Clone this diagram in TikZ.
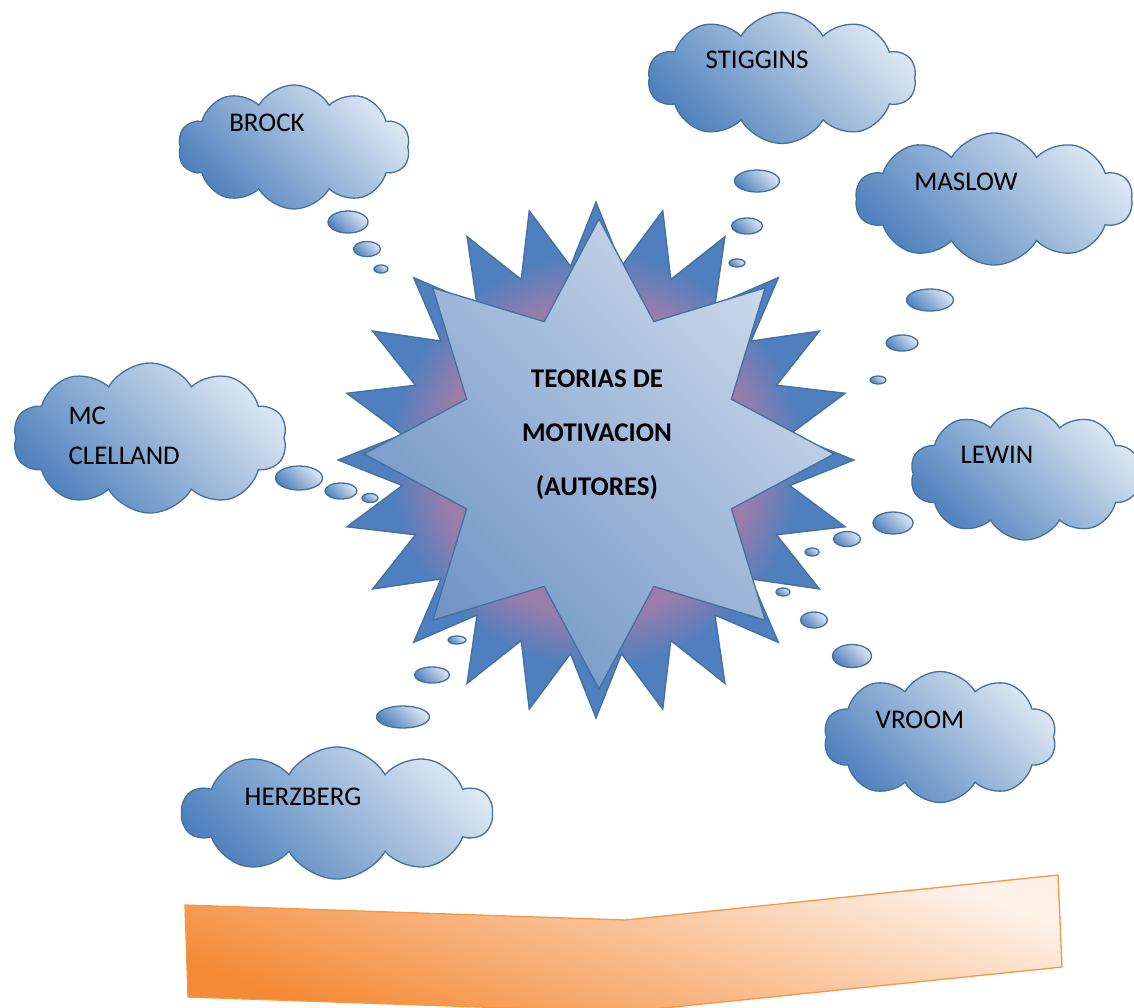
\documentclass[tikz,border=0pt]{standalone}
\usepackage{fontspec}
\setmainfont{Carlito}
\usepackage{tikz}
\usetikzlibrary{shapes.symbols,shapes.geometric}

\definecolor{cloudline}{HTML}{41719C}
\definecolor{cloudlight}{HTML}{DCE6F2}
\definecolor{clouddark}{HTML}{4F81BD}
\definecolor{starblue}{HTML}{4F7FBE}
\definecolor{starpink}{HTML}{9B7DAB}
\definecolor{starlight}{HTML}{CBD8EB}
\definecolor{starmid}{HTML}{6F93C6}
\definecolor{orangeline}{HTML}{F79646}
\definecolor{orangelight}{HTML}{FEF1E8}
\definecolor{orangedark}{HTML}{F48A36}

\pgfdeclareradialshading{starglow}{\pgfpoint{0bp}{0bp}}{color(0bp)=(starpink); color(15bp)=(starpink); color(20bp)=(starblue); color(50bp)=(starblue)}

\begin{document}
\begin{tikzpicture}[
  x=1pt, y=-1pt,
  thought/.style={cloud, cloud puffs=10, cloud puff arc=120, cloud ignores aspect, draw=cloudline, line width=1.3pt,
    top color=cloudlight, bottom color=clouddark, shading angle=-45, inner sep=0pt},
  bubble/.style={ellipse, draw=cloudline, line width=1.3pt, top color=cloudlight, bottom color=clouddark,
    shading angle=-45, inner sep=0pt},
  author/.style={font=\fontsize{27}{40}\selectfont, text=black},
  burst/.style={star, draw=cloudline, line width=1.3pt, inner sep=0pt},
  themetext/.style={font=\bfseries\fontsize{27}{54}\selectfont, align=center, text=black}
]
\useasboundingbox (0,0) rectangle (1134,1007);
% Central burst
\node[burst, star points=24, star point ratio=1.32, minimum size=516, shade, shading=starglow] (outer) at (596,460) {};
\node[burst, star points=8, star point ratio=1.64, minimum size=470,
  top color=starlight, bottom color=starmid, shading angle=-45] (inner) at (599,454) {};
\node[themetext] (theme) at (597,435) {TEORIAS DE\\MOTIVACION\\(AUTORES)};
% BROCK
\node[thought, minimum width=232, minimum height=124] (brock) at (294,147) {};
\node[author] (brock-t) at (267,123) {BROCK};
\node[bubble, minimum width=40, minimum height=22] (brock-b1) at (348,222) {};
\node[bubble, minimum width=27, minimum height=15] (brock-b2) at (367,249) {};
\node[bubble, minimum width=14, minimum height=8] (brock-b3) at (381,269) {};
% STIGGINS
\node[thought, minimum width=268, minimum height=131] (stig) at (782,78) {};
\node[author] (stig-t) at (757,60) {STIGGINS};
\node[bubble, minimum width=45, minimum height=22] (stig-b1) at (757,181) {};
\node[bubble, minimum width=31, minimum height=16] (stig-b2) at (747,226) {};
\node[bubble, minimum width=16, minimum height=8] (stig-b3) at (737,263) {};
% MASLOW
\node[thought, minimum width=277, minimum height=132] (maslow) at (994,199) {};
\node[author] (maslow-t) at (966,182) {MASLOW};
\node[bubble, minimum width=47, minimum height=22] (maslow-b1) at (930,300) {};
\node[bubble, minimum width=32, minimum height=16] (maslow-b2) at (902,343) {};
\node[bubble, minimum width=16, minimum height=8] (maslow-b3) at (878,380) {};
% MC CLELLAND
\node[thought, minimum width=274, minimum height=150] (mcc) at (150,438) {};
\node[author, align=left, anchor=west] (mcc-t) at (65,436) {MC\\CLELLAND};
\node[bubble, minimum width=47, minimum height=24] (mcc-b1) at (299,478) {};
\node[bubble, minimum width=32, minimum height=16] (mcc-b2) at (341,491) {};
\node[bubble, minimum width=16, minimum height=9] (mcc-b3) at (370,498) {};
% LEWIN
\node[thought, minimum width=230, minimum height=132] (lewin) at (1025,474) {};
\node[author] (lewin-t) at (997,455) {LEWIN};
\node[bubble, minimum width=40, minimum height=22] (lewin-b1) at (893,523) {};
\node[bubble, minimum width=27, minimum height=15] (lewin-b2) at (847,539) {};
\node[bubble, minimum width=14, minimum height=8] (lewin-b3) at (812,552) {};
% VROOM
\node[thought, minimum width=233, minimum height=131] (vroom) at (940,737) {};
\node[author] (vroom-t) at (920,720) {VROOM};
\node[bubble, minimum width=39, minimum height=23] (vroom-b1) at (852,656) {};
\node[bubble, minimum width=27, minimum height=16] (vroom-b2) at (814,620) {};
\node[bubble, minimum width=14, minimum height=8] (vroom-b3) at (783,592) {};
% HERZBERG
\node[thought, minimum width=310, minimum height=132] (herz) at (337,813) {};
\node[author] (herz-t) at (303,797) {HERZBERG};
\node[bubble, minimum width=53, minimum height=22] (herz-b1) at (403,717) {};
\node[bubble, minimum width=35, minimum height=16] (herz-b2) at (432,675) {};
\node[bubble, minimum width=18, minimum height=8] (herz-b3) at (457,640) {};
% Bottom banner
\draw[draw=orangeline, line width=1.3pt, top color=orangelight, bottom color=orangedark, shading angle=-20]
  (185,905) -- (625,920) -- (1058,875) -- (1062,967) -- (625,1012) -- (188,997) -- cycle;
\end{tikzpicture}
\end{document}
